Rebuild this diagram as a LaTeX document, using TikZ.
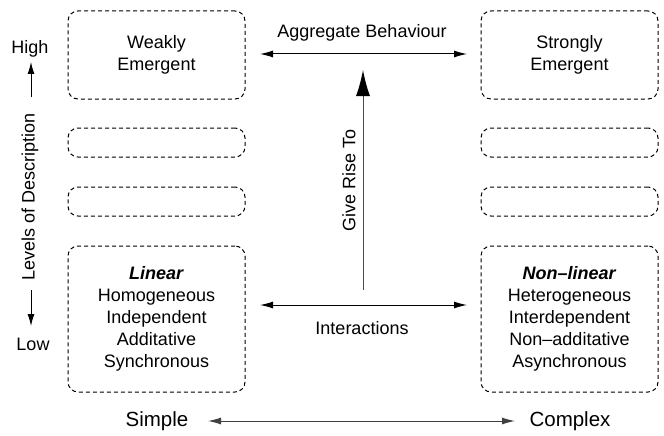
\documentclass[tikz,border=0pt]{standalone}
\usepackage{fontspec}
\setmainfont{Liberation Sans}
\usetikzlibrary{arrows.meta}
\begin{document}
\begin{tikzpicture}[x=1pt,y=-1pt,
  dbox/.style={draw=black, dashed, dash pattern=on 4pt off 3pt, rounded corners=10pt, line width=1pt, minimum width=177pt, inner sep=0pt, align=center, font=\fontsize{18}{22}\selectfont},
  lbl/.style={inner sep=0pt, font=\fontsize{18}{22}\selectfont},
  big/.style={inner sep=0pt, font=\fontsize{20.5}{24}\selectfont},
  conn/.style={line width=1pt, {Latex[length=13pt,width=7pt]}-{Latex[length=13pt,width=7pt]}},
  grayconn/.style={conn, draw=black!75, fill=black},
  up/.style={line width=1pt, -{Latex[length=12pt,width=7pt]}},
  riseconn/.style={line width=1pt, draw=black!70, -{Latex[length=26pt,width=14pt,color=black]}}]
\useasboundingbox (0,0) rectangle (664,436);

% left column
\node[dbox, minimum height=88pt] (wb) at (156.5,55) {Weakly\\Emergent};
\node[dbox, minimum height=29pt] (l2) at (156.5,142.5) {};
\node[dbox, minimum height=29pt] (l3) at (156.5,201.5) {};
\node[dbox, minimum height=146pt] (lin) at (156.5,319) {\textbf{\textit{Linear}}\\Homogeneous\\Independent\\Additative\\Synchronous};

% right column
\node[dbox, minimum height=88pt] (sb) at (569.5,55) {Strongly\\Emergent};
\node[dbox, minimum height=29pt] (r2) at (569.5,142.5) {};
\node[dbox, minimum height=29pt] (r3) at (569.5,201.5) {};
\node[dbox, minimum height=146pt] (nlin) at (569.5,319) {\textbf{\textit{Non--linear}}\\Heterogeneous\\Interdependent\\Non--additative\\Asynchronous};

% aggregate behaviour
\coordinate (aggL) at (260,54);
\coordinate (aggR) at (467,54);
\draw[conn] (aggL) -- (aggR);
\node[lbl] (agg) at (362,33) {Aggregate Behaviour};

% interactions
\coordinate (intL) at (260,305);
\coordinate (intR) at (467,305);
\draw[conn] (intL) -- (intR);
\node[lbl] (inter) at (362,328) {Interactions};

% give rise to
\coordinate (riseB) at (363,290);
\coordinate (riseT) at (363,70);
\draw[riseconn] (riseB) -- (riseT);
\node[lbl, rotate=90] (rise) at (349,180) {Give Rise To};

% simple / complex
\node[big] (simple) at (157,421) {Simple};
\node[big] (complex) at (570,421) {Complex};
\coordinate (scL) at (208,421);
\coordinate (scR) at (515,421);
\draw[grayconn] (scL) -- (scR);

% levels of description
\node[lbl] (high) at (30,49) {High};
\node[lbl] (low) at (33,344) {Low};
\node[lbl, rotate=90] (levels) at (30,197) {Levels of Description};
\coordinate (hB) at (31,97);
\coordinate (hT) at (31,62);
\draw[up] (hB) -- (hT);
\coordinate (lT) at (31,290);
\coordinate (lB) at (31,326);
\draw[up] (lT) -- (lB);
\end{tikzpicture}
\end{document}
